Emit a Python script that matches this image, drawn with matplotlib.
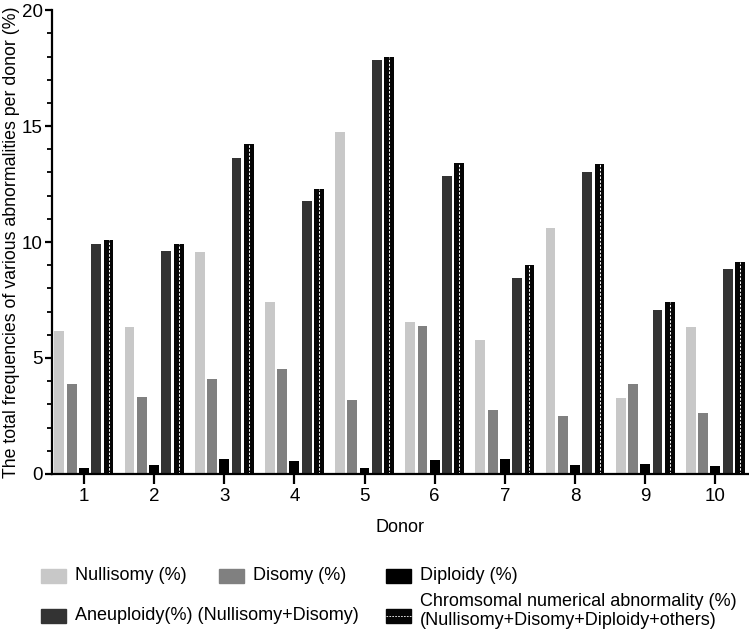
import matplotlib
matplotlib.use('Agg')
import matplotlib.pyplot as plt
import numpy as np
from matplotlib.patches import Rectangle
from matplotlib.lines import Line2D

plt.rcParams['font.family'] = ['Liberation Sans', 'DejaVu Sans']

donors = [1, 2, 3, 4, 5, 6, 7, 8, 9, 10]
nullisomy = [6.16, 6.34, 9.57, 7.41, 14.74, 6.55, 5.78, 10.60, 3.27, 6.34]
disomy = [3.88, 3.32, 4.09, 4.52, 3.19, 6.38, 2.75, 2.50, 3.88, 2.63]
diploidy = [0.26, 0.39, 0.65, 0.56, 0.26, 0.60, 0.65, 0.39, 0.43, 0.34]
aneuploidy = [9.90, 9.60, 13.62, 11.77, 17.87, 12.84, 8.45, 13.00, 7.07, 8.84]
chromosomal = [10.10, 9.90, 14.22, 12.28, 18.00, 13.40, 9.00, 13.35, 7.41, 9.13]

labels = ['Nullisomy (%)', 'Disomy (%)', 'Diploidy (%)',
          'Aneuploidy(%) (Nullisomy+Disomy)',
          'Chromsomal numerical abnormality (%)\n(Nullisomy+Disomy+Diploidy+others)']
colors = ['#c8c8c8', '#808080', '#000000', '#333333', '#050505']

fig = plt.figure(figsize=(7.49, 6.37), dpi=100)
ax = fig.add_axes([0.069, 0.256, 0.931, 0.728])

x = np.array(donors, dtype=float)
pitch = 0.175
width = 0.14
series = [nullisomy, disomy, diploidy, aneuploidy, chromosomal]
for i, vals in enumerate(series):
    pos = x + (i - 2) * pitch
    ax.bar(pos, vals, width=width, color=colors[i], edgecolor='none')
# white dashed centre line on the total bars
ax.vlines(x + 2 * pitch, 0, chromosomal, colors='white', linestyles=(0, (2.5, 1.5)), lw=0.7)

ax.set_xlim(0.54, 10.48)
ax.set_ylim(0, 20)
ax.set_xticks(donors)
ax.set_yticks([0, 5, 10, 15, 20])
ax.set_yticks(np.arange(0, 21, 1), minor=True)
ax.spines['top'].set_visible(False)
ax.spines['right'].set_visible(False)
for s in ['left', 'bottom']:
    ax.spines[s].set_linewidth(1.6)
ax.tick_params(axis='both', which='major', width=1.6, labelsize=13.5)
ax.tick_params(axis='x', which='major', length=7, pad=3)
ax.tick_params(axis='y', which='major', length=4.8, pad=1.8)
ax.tick_params(axis='y', which='minor', length=3.6, width=1.3)
ax.tick_params(axis='x', which='minor', bottom=False)
ax.set_xlabel('Donor', fontsize=13, labelpad=10)
ax.set_ylabel('The total frequencies of various abnormalities per donor (%)', fontsize=12.8)
ax.yaxis.set_label_coords(-0.045, 0.5)

# legend drawn in figure coordinates
W, H = 749.0, 637.0
entries = [(41, 576, 576, 0), (219, 576, 576, 1), (386, 576, 576, 2),
           (41, 616, 616, 3), (386, 616, 611, 4)]
for px, py, ty, k in entries:
    fig.patches.append(Rectangle((px / W, 1 - (py + 7) / H), 25 / W, 14 / H,
                                 transform=fig.transFigure, color=colors[k]))
    if k == 4:
        fig.lines.append(Line2D([px / W, (px + 25) / W], [1 - py / H, 1 - py / H],
                                transform=fig.transFigure, color='white', lw=0.6,
                                ls=(0, (2, 1.5))))
    fig.text((px + 34) / W, 1 - ty / H, labels[k], fontsize=13, va='center', ha='left',
             linespacing=1.1)

fig.savefig('out.png', dpi=100)
